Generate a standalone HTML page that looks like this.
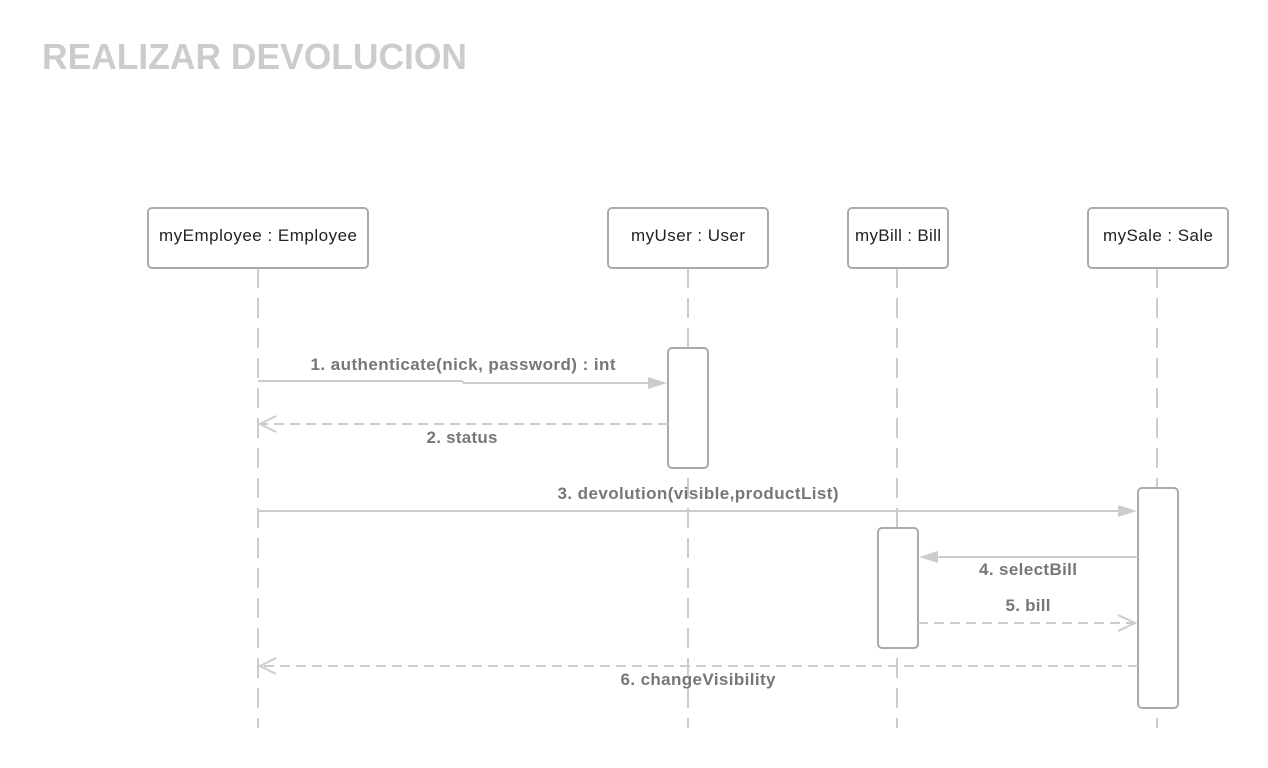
<!DOCTYPE html>
<html><head><meta charset="utf-8"><style>
html,body{margin:0;padding:0;background:#fff;}
svg{display:block;}
</style></head><body>
<svg width="1268" height="768" viewBox="0 0 1268 768" xmlns="http://www.w3.org/2000/svg">
<text x="42" y="69" font-family="Liberation Sans, sans-serif" font-weight="bold" font-size="36" fill="#cccccc" textLength="425" lengthAdjust="spacingAndGlyphs">REALIZAR DEVOLUCION</text>
<g stroke="#cccccc" stroke-width="2" stroke-dasharray="20 10" fill="none">
<line x1="258" y1="268" x2="258" y2="728"/>
<line x1="688" y1="268" x2="688" y2="728"/>
<line x1="897" y1="268" x2="897" y2="728"/>
<line x1="1157" y1="268" x2="1157" y2="728"/>
</g>
<g stroke="#aaaaaa" stroke-width="2" fill="#fff">
<rect x="148" y="208" width="220" height="60" rx="4"/>
<rect x="608" y="208" width="160" height="60" rx="4"/>
<rect x="848" y="208" width="100" height="60" rx="4"/>
<rect x="1088" y="208" width="140" height="60" rx="4"/>
<rect x="668" y="348" width="40" height="120" rx="4"/>
<rect x="878" y="528" width="40" height="120" rx="4"/>
<rect x="1138" y="488" width="40" height="220" rx="4"/>
</g>
<g font-family="Liberation Sans, sans-serif" font-size="17" fill="#222" text-anchor="middle" lengthAdjust="spacingAndGlyphs">
<text x="258" y="241" textLength="198">myEmployee : Employee</text>
<text x="688" y="241" textLength="114">myUser : User</text>
<text x="898" y="241" textLength="86">myBill : Bill</text>
<text x="1158" y="241" textLength="110">mySale : Sale</text>
</g>
<g stroke="#cccccc" stroke-width="2" fill="none">
<polyline points="258,381 462,381 464,383 648,383"/>
<line x1="258" y1="511" x2="1118" y2="511"/>
<line x1="938" y1="557" x2="1138" y2="557"/>
<line x1="668" y1="424" x2="262" y2="424" stroke-dasharray="10 6"/>
<line x1="918" y1="623" x2="1134" y2="623" stroke-dasharray="10 6"/>
<line x1="1138" y1="666" x2="262" y2="666" stroke-dasharray="10 6"/>
<polyline points="276,416 260,424 276,432"/>
<polyline points="1118,615 1135,623 1118,631"/>
<polyline points="276,658 260,666 276,674"/>
</g>
<g fill="#cccccc">
<polygon points="648,377 667,383 648,389"/>
<polygon points="1118,505 1137,511 1118,517"/>
<polygon points="938,551 919,557 938,563"/>
</g>
<g font-family="Liberation Sans, sans-serif" font-weight="bold" font-size="17" fill="#777" text-anchor="middle" lengthAdjust="spacingAndGlyphs">
<text x="463" y="370" textLength="305">1. authenticate(nick, password) : int</text>
<text x="462" y="443" textLength="71">2. status</text>
<text x="698" y="499" textLength="281">3. devolution(visible,productList)</text>
<text x="1028" y="575" textLength="98">4. selectBill</text>
<text x="1028" y="611" textLength="45">5. bill</text>
<text x="698" y="685" textLength="155">6. changeVisibility</text>
</g>
</svg>
</body></html>
